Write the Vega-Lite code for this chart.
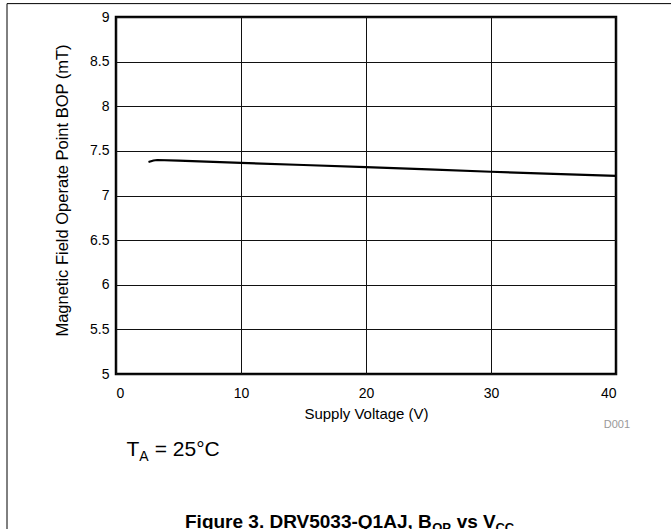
{
  "$schema": "https://vega.github.io/schema/vega-lite/v6.json",
  "width": 500,
  "height": 357,
  "autosize": {"type": "none"},
  "padding": {"left": 116, "top": 17, "right": 55, "bottom": 155},
  "background": "white",
  "config": {
    "font": "Liberation Sans",
    "view": {"stroke": "#000", "strokeWidth": 2.5},
    "text": {"font": "Liberation Sans", "fontWeight": "normal"},
    "axis": {
      "domain": false,
      "ticks": false,
      "grid": true,
      "gridColor": "#111",
      "gridWidth": 1,
      "gridOpacity": 1,
      "labelFont": "Liberation Sans",
      "labelFontSize": 14,
      "labelColor": "#000",
      "titleFont": "Liberation Sans",
      "titleFontSize": 15,
      "titleFontWeight": "normal",
      "titleColor": "#000"
    }
  },
  "layer": [
    {
      "data": {
        "values": [
          {"v": 2.6, "b": 7.375},
          {"v": 3.0, "b": 7.392},
          {"v": 3.3, "b": 7.398},
          {"v": 5, "b": 7.39},
          {"v": 10, "b": 7.366},
          {"v": 15, "b": 7.342},
          {"v": 20, "b": 7.317},
          {"v": 25, "b": 7.292},
          {"v": 30, "b": 7.266},
          {"v": 35, "b": 7.243},
          {"v": 40, "b": 7.221}
        ]
      },
      "mark": {"type": "line", "color": "#000", "strokeWidth": 2.2},
      "encoding": {
        "x": {
          "field": "v", "type": "quantitative",
          "scale": {"domain": [0, 40], "nice": false, "zero": false},
          "axis": {"values": [0, 10, 20, 30, 40], "format": "~g", "labelPadding": 12, "title": "Supply Voltage (V)", "titlePadding": 6}
        },
        "y": {
          "field": "b", "type": "quantitative",
          "scale": {"domain": [5, 9], "nice": false, "zero": false},
          "axis": {"values": [5, 5.5, 6, 6.5, 7, 7.5, 8, 8.5, 9], "format": "~g", "labelPadding": 7, "title": "Magnetic Field Operate Point BOP (mT)", "titleFontSize": 16.5, "titleX": -54, "titleY": 173, "titleAngle": -90, "titleBaseline": "middle", "titleAlign": "center"}
        }
      }
    },
    {
      "data": {"values": [{}]},
      "mark": {"type": "rule", "color": "#000", "strokeWidth": 1},
      "encoding": {
        "x": {"datum": -8.72, "type": "quantitative"},
        "y": {"datum": 9.15, "type": "quantitative"},
        "y2": {"datum": 2}
      }
    },
    {
      "data": {"values": [{}]},
      "mark": {"type": "rule", "color": "#000", "strokeWidth": 1},
      "encoding": {
        "x": {"datum": -8.72, "type": "quantitative"},
        "x2": {"datum": 50},
        "y": {"datum": 9.15, "type": "quantitative"}
      }
    },
    {
      "data": {"values": [{}]},
      "mark": {"type": "text", "text": "T", "fontSize": 21, "fontWeight": "normal", "align": "left", "baseline": "alphabetic", "color": "#000"},
      "encoding": {
        "x": {"datum": 0.84, "type": "quantitative"},
        "y": {"datum": 4.081, "type": "quantitative"}
      }
    },
    {
      "data": {"values": [{}]},
      "mark": {"type": "text", "text": "A", "fontSize": 14, "fontWeight": "normal", "align": "left", "baseline": "alphabetic", "color": "#000"},
      "encoding": {
        "x": {"datum": 1.86, "type": "quantitative"},
        "y": {"datum": 4.025, "type": "quantitative"}
      }
    },
    {
      "data": {"values": [{}]},
      "mark": {"type": "text", "text": "= 25°C", "fontSize": 21, "fontWeight": "normal", "align": "left", "baseline": "alphabetic", "color": "#000"},
      "encoding": {
        "x": {"datum": 3.1, "type": "quantitative"},
        "y": {"datum": 4.081, "type": "quantitative"}
      }
    },
    {
      "data": {"values": [{}]},
      "mark": {"type": "text", "text": "D001", "fontSize": 11, "fontWeight": "normal", "align": "right", "baseline": "alphabetic", "color": "#999"},
      "encoding": {
        "x": {"datum": 41.12, "type": "quantitative"},
        "y": {"datum": 4.395, "type": "quantitative"}
      }
    },
    {
      "data": {"values": [{}]},
      "mark": {"type": "text", "text": "Figure 3. DRV5033-Q1AJ, B", "fontSize": 19, "fontWeight": "bold", "align": "left", "baseline": "alphabetic", "color": "#000"},
      "encoding": {
        "x": {"datum": 5.52, "type": "quantitative"},
        "y": {"datum": 3.2745, "type": "quantitative"}
      }
    },
    {
      "data": {"values": [{}]},
      "mark": {"type": "text", "text": "OP", "fontSize": 13, "fontWeight": "bold", "align": "left", "baseline": "alphabetic", "color": "#000"},
      "encoding": {
        "x": {"datum": 25.3, "type": "quantitative"},
        "y": {"datum": 3.23, "type": "quantitative"}
      }
    },
    {
      "data": {"values": [{}]},
      "mark": {"type": "text", "text": "vs V", "fontSize": 19, "fontWeight": "bold", "align": "left", "baseline": "alphabetic", "color": "#000"},
      "encoding": {
        "x": {"datum": 27.25, "type": "quantitative"},
        "y": {"datum": 3.2745, "type": "quantitative"}
      }
    },
    {
      "data": {"values": [{}]},
      "mark": {"type": "text", "text": "CC", "fontSize": 13, "fontWeight": "bold", "align": "left", "baseline": "alphabetic", "color": "#000"},
      "encoding": {
        "x": {"datum": 30.35, "type": "quantitative"},
        "y": {"datum": 3.23, "type": "quantitative"}
      }
    }
  ]
}
